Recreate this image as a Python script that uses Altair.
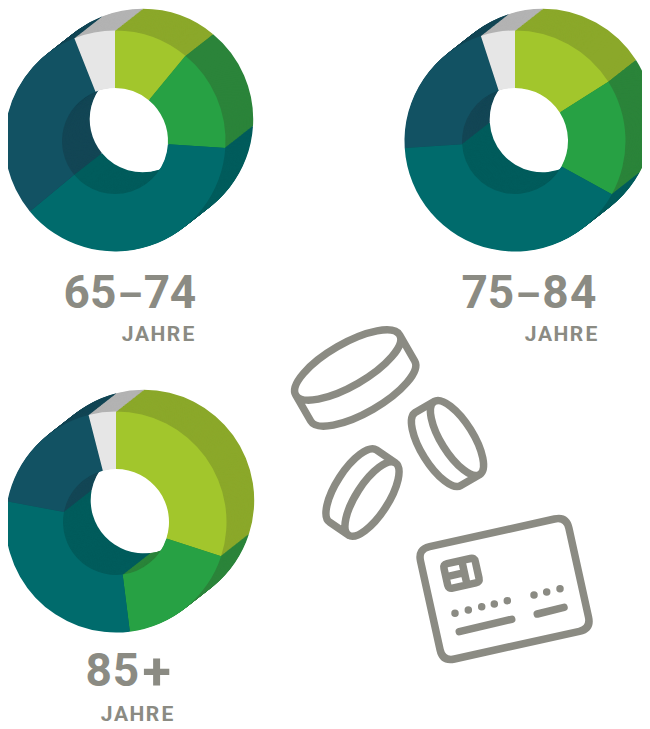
import math
import altair as alt
import pandas as pd

# ---- values (percent shares per age group)
groups = ["65–74", "75–84", "85+"]
shares_65 = [11, 15, 38, 30, 6]
shares_75 = [16, 17, 41, 21, 5]
shares_85 = [30, 18, 30, 18, 4]
unit_label = "JAHRE"

# ---- styles
face_colors = ["#a2c62c", "#27a144", "#006b6c", "#125263", "#e6e6e6"]
wall_colors = ["#8ba82a", "#2b843a", "#005c5c", "#134655", "#b3b3b3"]
GREY = "#8b8b83"
FONT = "Roboto"

# ---- layout (page pixels, minus the 8px margin when used)
W, H = 634, 713
M = 8
R_OUT, R_IN = 110.5, 53
DEPTH = (27.7, -21.7)
STEPS = 36
centers = [(115, 141), (515, 141), (116, 522)]
# glyph centres of each label, page pixels
big_x = [[76.7, 103.2, 130, 157, 183], [474.7, 501, 528, 555.5, 583.3], [98.7, 126, 156.7]]
big_y = [308, 308, 686]
glyph_size = {"–": 40, "+": 52}
glyph_dy = {"–": 1, "+": 3}
BIG_SIZE = 46
jahre_dx = [4.5, 19, 35, 50.5, 65.5]
small_left = [123, 526, 102]
small_y = [340.5, 340.5, 720.5]
small_x = [[left + d for d in jahre_dx] for left in small_left]


def pie_rows(shares, cx, cy):
    rows = []
    total = sum(shares)
    edges = [0]
    for s in shares:
        edges.append(edges[-1] + s)
    for k in range(STEPS, -1, -1):
        t = k / STEPS
        cols = face_colors if k == 0 else wall_colors
        for i in range(len(shares)):
            rows.append({
                "x": cx + DEPTH[0] * t - M,
                "y": cy + DEPTH[1] * t - M,
                "a0": edges[i] / total * 2 * math.pi,
                "a1": edges[i + 1] / total * 2 * math.pi,
                "c": cols[i],
            })
    return rows


rows = []
for shares, (cx, cy) in zip([shares_65, shares_75, shares_85], centers):
    rows += pie_rows(shares, cx, cy)

pies = alt.Chart(pd.DataFrame(rows)).mark_arc(
    outerRadius=R_OUT, innerRadius=R_IN, opacity=1, fillOpacity=1
).encode(
    x=alt.X("x:Q", scale=None, axis=None),
    y=alt.Y("y:Q", scale=None, axis=None),
    theta=alt.Theta("a0:Q", scale=None, stack=None),
    theta2=alt.Theta2("a1:Q"),
    fill=alt.Fill("c:N", scale=None, legend=None),
)


def glyph_rows(texts, xs, ys, base):
    out = []
    for text, gx, y in zip(texts, xs, ys):
        for ch, x in zip(text, gx):
            out.append({
                "t": ch,
                "x": x - M,
                "y": y + glyph_dy.get(ch, 0) - M,
                "s": glyph_size.get(ch, base),
            })
    return pd.DataFrame(out)


big_text = alt.Chart(glyph_rows(groups, big_x, big_y, BIG_SIZE)).mark_text(
    font=FONT, fontWeight="bold", align="center", baseline="alphabetic", color=GREY,
).encode(
    x=alt.X("x:Q", scale=None),
    y=alt.Y("y:Q", scale=None),
    text="t:N",
    size=alt.Size("s:Q", scale=None, legend=None),
)
small_text = alt.Chart(glyph_rows([unit_label] * 3, small_x, small_y, 21)).mark_text(
    font=FONT, fontWeight="bold", align="center", baseline="alphabetic", color=GREY,
).encode(
    x=alt.X("x:Q", scale=None),
    y=alt.Y("y:Q", scale=None),
    text="t:N",
    size=alt.Size("s:Q", scale=None, legend=None),
)


# ---- icons as outline paths
def pill(cx, cy, a, b, deg, dx, dy):
    r = math.radians(deg)
    ux, uy = math.cos(r), math.sin(r)
    p0 = (cx - a * ux - M, cy - a * uy - M)
    p1 = (cx + a * ux - M, cy + a * uy - M)
    s = f"M{p0[0]:.1f} {p0[1]:.1f}A{a} {b} {deg} 1 1 {p1[0]:.1f} {p1[1]:.1f}"
    s += f"A{a} {b} {deg} 1 1 {p0[0]:.1f} {p0[1]:.1f}"
    # side wall: the half of the rim that faces the extrusion direction
    sweep = 1 if (-uy * dx + ux * dy) > 0 else 0
    s += f"M{p0[0]:.1f} {p0[1]:.1f}L{p0[0] + dx:.1f} {p0[1] + dy:.1f}"
    s += f"A{a} {b} {deg} 1 {1 - sweep} {p1[0] + dx:.1f} {p1[1] + dy:.1f}"
    s += f"L{p1[0]:.1f} {p1[1]:.1f}"
    return s


def local(cx, cy, deg):
    r = math.radians(deg)
    c, sn = math.cos(r), math.sin(r)
    return lambda x, y: (cx + x * c - y * sn - M, cy + x * sn + y * c - M)


def round_rect(T, hw, hh, rad):
    pts = [
        (-hw + rad, -hh), (hw - rad, -hh), (hw, -hh), (hw, -hh + rad),
        (hw, hh - rad), (hw, hh), (hw - rad, hh), (-hw + rad, hh),
        (-hw, hh), (-hw, hh - rad), (-hw, -hh + rad), (-hw, -hh), (-hw + rad, -hh),
    ]
    q = [T(*p) for p in pts]
    s = f"M{q[0][0]:.1f} {q[0][1]:.1f}L{q[1][0]:.1f} {q[1][1]:.1f}"
    s += f"Q{q[2][0]:.1f} {q[2][1]:.1f} {q[3][0]:.1f} {q[3][1]:.1f}L{q[4][0]:.1f} {q[4][1]:.1f}"
    s += f"Q{q[5][0]:.1f} {q[5][1]:.1f} {q[6][0]:.1f} {q[6][1]:.1f}L{q[7][0]:.1f} {q[7][1]:.1f}"
    s += f"Q{q[8][0]:.1f} {q[8][1]:.1f} {q[9][0]:.1f} {q[9][1]:.1f}L{q[10][0]:.1f} {q[10][1]:.1f}"
    s += f"Q{q[11][0]:.1f} {q[11][1]:.1f} {q[12][0]:.1f} {q[12][1]:.1f}Z"
    return s


def zoomed(x, y):
    return (400 + x / 3 - M, 500 + y / 3 - M)


def seg(p, q):
    a, b = zoomed(*p), zoomed(*q)
    return f"M{a[0]:.1f} {a[1]:.1f}L{b[0]:.1f} {b[1]:.1f}"


card_T = local(504.5, 589, -12.5)
chip_T = local(461.5, 573.3, -12.5)
v0, v1 = chip_T(3, -12), chip_T(3, 12)
h0, h1 = chip_T(-16, 0), chip_T(3, 0)

dots = [(165, 340), (205, 330), (245, 320), (283, 312), (322, 302), (402, 285), (440, 276), (480, 266)]
card_path = round_rect(card_T, 76, 57.5, 12)
card_path += "".join(seg(d, (d[0] + 0.03, d[1])) for d in dots)
card_path += seg((178, 395), (335, 358)) + seg((412, 342), (492, 322))
chip_path = round_rect(chip_T, 16, 12.5, 4)
chip_path += f"M{v0[0]:.1f} {v0[1]:.1f}L{v1[0]:.1f} {v1[1]:.1f}M{h0[0]:.1f} {h0[1]:.1f}L{h1[0]:.1f} {h1[1]:.1f}"

icon_paths = [
    pill(347.7, 365, 60, 21, -30, 15, 26),
    pill(457, 438, 43, 16, 58, -19, 11),
    pill(372, 499, 43, 16, -57, -19, -13),
    card_path,
    chip_path,
]


def icon(path, sw=7.5):
    return alt.Chart(pd.DataFrame({"k": [0]})).mark_point(
        shape=path, size=4, filled=False, opacity=1, stroke=GREY, strokeWidth=sw,
        strokeCap="round", strokeJoin="round",
    ).encode(x=alt.value(0), y=alt.value(0))


chart = alt.layer(
    pies, big_text, small_text, *[icon(p) for p in icon_paths]
).properties(
    width=W, height=H, padding=0, autosize=alt.AutoSizeParams(type="none")
).configure_view(stroke=None)

chart.save("out.html", embed_options={"renderer": "svg", "actions": False})
